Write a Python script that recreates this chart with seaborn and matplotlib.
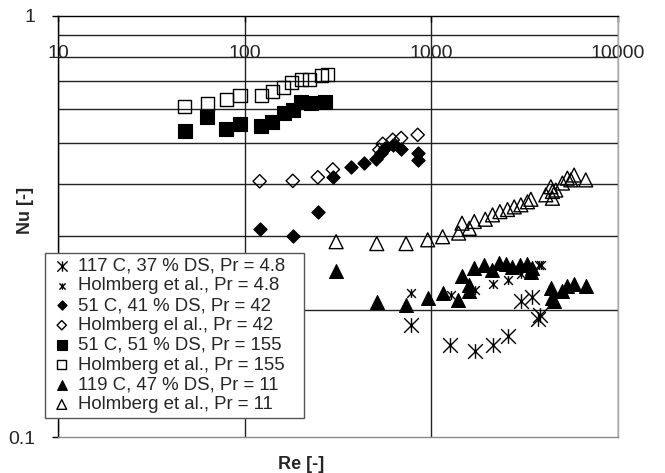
import matplotlib
matplotlib.use("Agg")
import matplotlib.pyplot as plt
from matplotlib.path import Path
from matplotlib.ticker import FixedLocator, NullFormatter, FixedFormatter, NullLocator
import pandas as pd
import seaborn as sns

# 117 C, 37 % DS, Pr = 4.8
re_117 = [779, 1256, 1705, 2127, 2572, 3018, 3447, 3748, 3842]
nu_117 = [0.185, 0.165, 0.160, 0.165, 0.174, 0.210, 0.215, 0.191, 0.195]
# Holmberg et al., Pr = 4.8
re_h48 = [779, 1274, 1719, 2127, 2559, 3018, 3780, 3860]
nu_h48 = [0.220, 0.217, 0.224, 0.231, 0.236, 0.244, 0.256, 0.256]
# 51 C, 41 % DS, Pr = 42
re_51a = [120.3, 181, 246.6, 296.6, 373, 434, 506, 538, 568, 621, 689, 845, 845]
nu_51a = [0.312, 0.300, 0.342, 0.414, 0.437, 0.447, 0.457, 0.472, 0.485,
          0.493, 0.484, 0.472, 0.456]
# Holmberg et al., Pr = 42
re_h42 = [120.3, 181, 246.6, 296.6, 527, 549, 621, 689, 845]
nu_h42 = [0.405, 0.406, 0.414, 0.432, 0.481, 0.497, 0.508, 0.513, 0.522]
# 51 C, 51 % DS, Pr = 155
re_51b = [47.8, 62.9, 79.8, 94.4, 122.8, 140.3, 162.1, 181, 201, 227, 268]
nu_51b = [0.534, 0.577, 0.540, 0.553, 0.549, 0.559, 0.587, 0.598, 0.626,
          0.620, 0.626]
# Holmberg et al., Pr = 155
re_h155 = [47.8, 62.9, 79.8, 94.4, 122.8, 140.3, 162.1, 179, 201, 222.7, 257, 278.8]
nu_h155 = [0.608, 0.618, 0.632, 0.647, 0.649, 0.661, 0.677, 0.694, 0.705,
           0.707, 0.724, 0.728]
# 119 C, 47 % DS, Pr = 11
re_119 = [309, 510, 732, 956, 1155, 1395, 1460, 1597, 1597, 1698, 1920, 2112,
          2310, 2509, 2721, 2981, 3273, 3414, 3481, 4366, 4453, 4548, 5036,
          5356, 5817, 6718]
nu_119 = [0.248, 0.209, 0.206, 0.214, 0.220, 0.212, 0.241, 0.230, 0.222,
          0.252, 0.256, 0.249, 0.259, 0.258, 0.253, 0.256, 0.258, 0.247,
          0.252, 0.226, 0.214, 0.210, 0.222, 0.228, 0.231, 0.228]
# Holmberg et al., Pr = 11
re_h11 = [309, 510, 732, 956, 1149, 1400, 1460, 1597, 1698, 1945, 2127, 2330,
          2559, 2779, 3018, 3273, 3414, 4107, 4366, 4453, 4453, 4643, 5036,
          5356, 5586, 5817, 6718]
nu_h11 = [0.291, 0.288, 0.288, 0.294, 0.299, 0.305, 0.322, 0.313, 0.325,
          0.329, 0.337, 0.343, 0.347, 0.352, 0.356, 0.362, 0.367, 0.376,
          0.393, 0.383, 0.369, 0.386, 0.401, 0.412, 0.408, 0.419, 0.408]

x_ticks = [10, 100, 1000, 10000]
x_tick_labels = ["10", "100", "1000", "10000"]
y_ticks = [0.1, 1]
y_tick_labels = ["0.1", "1"]
y_grid = [0.2, 0.3, 0.4, 0.5, 0.6, 0.7, 0.8, 0.9]

sns.set_style("white")
plt.rcParams["font.family"] = ["Liberation Sans", "DejaVu Sans"]

# asterisk marker: vertical bar plus an X
ASTER = Path([(0, -1), (0, 1), (-1, -1), (1, 1), (-1, 1), (1, -1)],
             [Path.MOVETO, Path.LINETO] * 3)

fig = plt.figure(figsize=(6.65, 4.73), dpi=100)
ax = fig.add_axes([58 / 665, 1 - 437 / 473, 560 / 665, 421 / 473])
ax.set_xscale("log")
ax.set_yscale("log")

series = [
    (re_117, nu_117, ASTER, 112, "black", "black", 1.0, 4, "117 C, 37 % DS, Pr = 4.8"),
    (re_h48, nu_h48, ASTER, 40, "black", "black", 1.0, 4, "Holmberg et al., Pr = 4.8"),
    (re_51a, nu_51a, "D", 46, "black", "black", 0.8, 4, "51 C, 41 % DS, Pr = 42"),
    (re_h42, nu_h42, "D", 46, "none", "black", 1.0, 3, "Holmberg el al., Pr = 42"),
    (re_51b, nu_51b, "s", 95, "black", "black", 0.8, 4, "51 C, 51 % DS, Pr = 155"),
    (re_h155, nu_h155, "s", 88, "none", "black", 1.0, 3, "Holmberg et al., Pr = 155"),
    (re_119, nu_119, "^", 100, "black", "black", 0.8, 4, "119 C, 47 % DS, Pr = 11"),
    (re_h11, nu_h11, "^", 100, "none", "black", 1.0, 3, "Holmberg et al., Pr = 11"),
]

for re, nu, mk, size, fc, ec, lw, z, lab in series:
    df = pd.DataFrame({"Re": re, "Nu": nu})
    sns.scatterplot(data=df, x="Re", y="Nu", marker=mk, s=size, color="black",
                    facecolor=fc, edgecolor=ec, linewidth=lw, zorder=z,
                    label=lab, ax=ax, legend=False)

ax.set_xlim(10, 10000)
ax.set_ylim(0.1, 1)

# gridlines
ax.xaxis.set_major_locator(FixedLocator(x_ticks))
ax.xaxis.set_major_formatter(FixedFormatter(x_tick_labels))
ax.xaxis.set_minor_locator(NullLocator())
ax.yaxis.set_major_locator(FixedLocator(y_ticks))
ax.yaxis.set_major_formatter(FixedFormatter(y_tick_labels))
ax.yaxis.set_minor_locator(FixedLocator(y_grid))
ax.yaxis.set_minor_formatter(NullFormatter())
ax.grid(True, which="major", axis="x", color="#222222", lw=1.0, zorder=0)
ax.grid(True, which="minor", axis="y", color="#222222", lw=1.0, zorder=0)
ax.set_axisbelow(True)

# x labels sit just under the top border
ax.xaxis.tick_top()
ax.tick_params(axis="x", which="major", direction="in", length=4.5, width=1,
               color="black", pad=-33, labelsize=14, top=True, bottom=False)
ax.tick_params(axis="y", which="major", direction="out", length=4, width=1,
               color="black", pad=12, labelsize=14, left=True)
ax.tick_params(axis="y", which="minor", length=0)

for side, col in [("top", "black"), ("left", "black"),
                  ("right", "#a8a8a8"), ("bottom", "#8a8a8a")]:
    ax.spines[side].set_visible(True)
    ax.spines[side].set_color(col)
    ax.spines[side].set_linewidth(1.0)

ax.set_xlabel("Re [-]", fontsize=13, fontweight="bold")
ax.set_ylabel("Nu [-]", fontsize=13, fontweight="bold")
ax.xaxis.set_label_position("bottom")
ax.xaxis.set_label_coords(0.434, -0.045)
ax.yaxis.set_label_coords(-0.042, 0.537)

leg = ax.legend(loc="lower left",
                bbox_to_anchor=(-0.0232, 0.0451, 259 / 560, 165 / 421),
                bbox_transform=ax.transAxes, mode="expand",
                frameon=True, fancybox=False,
                edgecolor="#555555", framealpha=1, fontsize=13.4,
                handlelength=1.3, handletextpad=0.2, labelspacing=0.15,
                borderpad=0.25, borderaxespad=0, markerscale=0.7)
leg.get_frame().set_linewidth(1.0)
leg.set_zorder(10)

fig.savefig("out.png", dpi=100)
